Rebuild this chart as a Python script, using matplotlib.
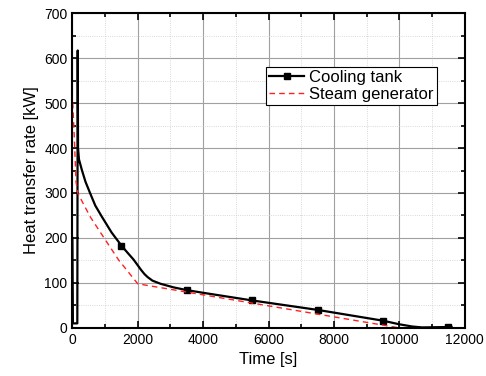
import numpy as np
import matplotlib.pyplot as plt
from matplotlib.ticker import MultipleLocator

plt.rcParams['font.family'] = ['Liberation Sans', 'DejaVu Sans']

# cooling tank curve
t_tank = [0, 15, 150, 162, 172, 200, 290, 400, 545, 700, 903, 1200, 1500,
          1700, 1870, 2000, 2100, 2200, 2300, 2450, 2700, 3100, 3500, 4000,
          5500, 7500, 9500, 10000, 10400, 10700, 11600]
q_tank = [200, 10, 10, 617, 400, 375, 351, 325, 299, 272, 247, 212, 183,
          166, 152, 139, 129, 120, 113, 105, 98, 90, 84, 78,
          61, 40, 16, 8, 3, 1, 2]
# marker times
t_mark = [1500, 3500, 5500, 7500, 9500, 11500]
q_mark = [183, 84, 61, 40, 16, 2]

# steam generator curve
t_sg = [0, 10, 60, 110, 168, 545, 1005, 1414, 2000, 10000]
q_sg = [500, 500, 420, 325, 299, 247, 196, 151, 98, 0]

fig = plt.figure(figsize=(4.86, 3.76), dpi=100)
ax = fig.add_axes([0.149, 0.128, 0.807, 0.837])

ax.plot(t_tank, q_tank, '-', color='black', lw=1.6)
ax.plot(t_mark, q_mark, 's', color='black', ms=5)
ax.plot(t_sg, q_sg, '--', color='#ff2020', lw=1.0, dashes=(4, 3),
        label='Steam generator')
# legend proxy for tank line with marker
ax.plot([], [], '-s', color='black', lw=1.6, ms=4, label='Cooling tank')

h, l = ax.get_legend_handles_labels()
leg = ax.legend(h[::-1], l[::-1], loc='upper right', bbox_to_anchor=(0.93, 0.83),
                fontsize=12, handlelength=2.1, handletextpad=0.3,
                borderpad=0.2, labelspacing=0.1, fancybox=False,
                framealpha=1, borderaxespad=0)
leg.get_frame().set_edgecolor('black')
leg.get_frame().set_linewidth(0.8)

ax.set_xlim(0, 12000)
ax.set_ylim(0, 700)
ax.xaxis.set_major_locator(MultipleLocator(2000))
ax.xaxis.set_minor_locator(MultipleLocator(1000))
ax.yaxis.set_major_locator(MultipleLocator(100))
ax.yaxis.set_minor_locator(MultipleLocator(50))
ax.grid(which='major', color='#a0a0a0', lw=0.8)
ax.grid(which='minor', color='#cccccc', lw=0.6, ls=':')
ax.set_axisbelow(True)
ax.tick_params(which='both', direction='in', top=True, right=True,
               labelsize=10, width=1.2)
ax.tick_params(which='major', length=5)
ax.tick_params(which='minor', length=3)
for s in ax.spines.values():
    s.set_linewidth(1.5)

ax.set_xlabel('Time [s]', fontsize=12)
ax.set_ylabel('Heat transfer rate [kW]', fontsize=12)

fig.savefig('out.png', dpi=100)
